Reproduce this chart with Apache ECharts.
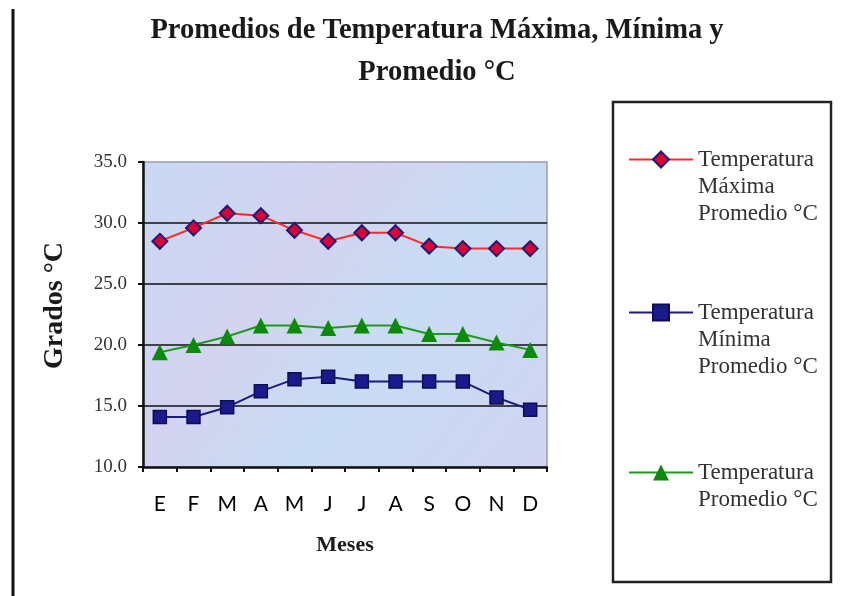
<!DOCTYPE html>
<html>
<head>
<meta charset="utf-8">
<script src="https://cdn.jsdelivr.net/npm/echarts@6/dist/echarts.min.js"></script>
<style>html,body{margin:0;padding:0;background:#fff}#c{width:850px;height:596px}</style>
</head>
<body>
<div id="c"></div>
<script>
const months = ['E','F','M','A','M','J','J','A','S','O','N','D'];
const tMax = [28.5,29.6,30.8,30.6,29.4,28.5,29.2,29.2,28.1,27.9,27.9,27.9];
const tMin = [14.1,14.1,14.9,16.2,17.2,17.4,17.0,17.0,17.0,17.0,15.7,14.7];
const tAvg = [19.4,20.0,20.7,21.6,21.6,21.4,21.6,21.6,20.9,20.9,20.2,19.6];
const nameMax = 'Temperatura\nMáxima\nPromedio °C';
const nameMin = 'Temperatura\nMínima\nPromedio °C';
const nameAvg = 'Temperatura\nPromedio °C';
const yMin = 10, yMax = 35, yStep = 5;

const serif = '"Liberation Serif", "DejaVu Serif", serif';
const LH = 27;
function legendFor(name, top, lines) {
  const pre = '\n'.repeat(lines - 1);
  return {
    data: [name], left: 628, top: top, padding: 0, orient: 'vertical',
    itemWidth: 64, itemHeight: 20, itemGap: 6, selectedMode: false,
    formatter: n => pre + n,
    textStyle: { fontFamily: serif, fontSize: 23, lineHeight: LH, color: '#333' }
  };
}

const chart = echarts.init(document.getElementById('c'));
chart.setOption({
  animation: false,
  backgroundColor: '#ffffff',
  title: {
    text: 'Promedios de Temperatura Máxima, Mínima y\nPromedio °C',
    left: 437, top: 10, padding: 0, textAlign: 'center',
    textStyle: { fontFamily: serif, fontWeight: 'bold', fontSize: 28.5, lineHeight: 42, color: '#1a1a1a' }
  },
  legend: [legendFor(nameMax, 92, 3), legendFor(nameMin, 245, 3), legendFor(nameAvg, 432, 2)],
  grid: {
    left: 143, right: 303, top: 162, bottom: 129,
    show: true, borderColor: '#9a9aae', borderWidth: 1.5,
    backgroundColor: new echarts.graphic.LinearGradient(0, 0, 1, 1, [
      { offset: 0, color: '#c9d9f3' },
      { offset: 0.35, color: '#d3d3f0' },
      { offset: 0.6, color: '#c8dcf3' },
      { offset: 1, color: '#d0d4f2' }
    ])
  },
  xAxis: {
    type: 'category', data: months, boundaryGap: true,
    axisLine: { lineStyle: { color: '#111', width: 2.5 } },
    axisTick: { show: true, interval: 0, length: 5, lineStyle: { color: '#111', width: 2 } },
    axisLabel: { interval: 0, margin: 27, fontFamily: 'Lato, "Open Sans", sans-serif', fontSize: 21, color: '#000' },
    name: 'Meses', nameLocation: 'middle', nameGap: 67,
    nameTextStyle: { fontFamily: serif, fontWeight: 'bold', fontSize: 22, color: '#1a1a1a' }
  },
  yAxis: {
    type: 'value', min: yMin, max: yMax, interval: yStep,
    axisLine: { show: true, lineStyle: { color: '#111', width: 2.5 } },
    axisTick: { show: true, length: 5, lineStyle: { color: '#111', width: 2 } },
    axisLabel: { margin: 16, fontFamily: serif, fontSize: 19, color: '#333',
      formatter: v => v.toFixed(1) },
    splitLine: { show: true, showMinLine: false, showMaxLine: false, lineStyle: { color: '#111', width: 1.5 } },
    name: 'Grados °C', nameLocation: 'middle', nameGap: 74, nameRotate: 90,
    nameTextStyle: { fontFamily: serif, fontWeight: 'bold', fontSize: 28, color: '#1a1a1a', padding: [0, 0, 0, 18] }
  },
  graphic: [
    { type: 'rect', shape: { x: 613, y: 102, width: 218, height: 480 },
      style: { fill: 'none', stroke: '#222', lineWidth: 2.5 }, z: -1 },
    { type: 'line', shape: { x1: 13, y1: 9, x2: 13, y2: 596 },
      style: { stroke: '#111', lineWidth: 3 } }
  ],
  series: [
    { name: nameMax, type: 'line', data: tMax, symbol: 'diamond', symbolSize: 15,
      lineStyle: { color: '#ff2a2a', width: 2 },
      itemStyle: { color: '#dd0033', borderColor: '#1a1a7a', borderWidth: 2 } },
    { name: nameMin, type: 'line', data: tMin, symbol: 'rect', symbolSize: 13,
      lineStyle: { color: '#1a1a80', width: 2 },
      itemStyle: { color: '#1a1a8c', borderColor: '#0d0d55', borderWidth: 1.5 } },
    { name: nameAvg, type: 'line', data: tAvg, symbol: 'triangle', symbolSize: 16,
      lineStyle: { color: '#1e9a1e', width: 2 },
      itemStyle: { color: '#0b8a0b' } }
  ]
});
</script>
</body>
</html>
